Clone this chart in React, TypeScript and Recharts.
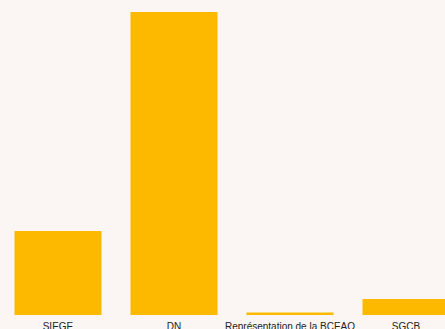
import { BarChart, Bar, XAxis, YAxis } from 'recharts'

const categories = ['SIEGE', 'DN', 'Représentation de la BCEAO', 'SGCB']
const values = [277, 1000, 8, 53]

const data = categories.map((name, i) => ({ name, value: values[i] }))

export default function App() {
  return (
    <div
      style={{
        position: 'fixed',
        left: 0,
        top: 0,
        width: 445,
        height: 329,
        overflow: 'hidden',
        background: '#fbf6f3',
      }}
    >
      <BarChart
        width={464}
        height={329}
        data={data}
        margin={{ top: 12, right: 0, left: 0, bottom: 0 }}
        barCategoryGap="12.5%"
      >
        <XAxis
          dataKey="name"
          axisLine={false}
          tickLine={false}
          height={14}
          interval={0}
          tick={{ fill: '#222', fontSize: 10, fontFamily: 'Liberation Sans, Arial, sans-serif' }}
        />
        <YAxis hide domain={[0, 'dataMax']} />
        <Bar dataKey="value" fill="#fdb900" isAnimationActive={false} />
      </BarChart>
    </div>
  )
}
